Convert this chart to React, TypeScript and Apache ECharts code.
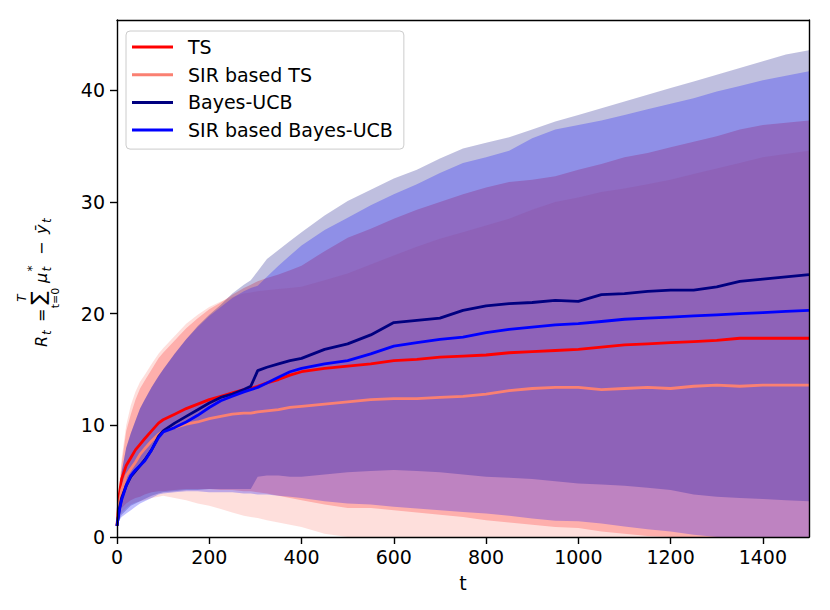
import React, { useEffect, useRef } from "react";
import * as echarts from "echarts";

const T = [0, 5, 10, 20, 30, 40, 50, 60, 75, 90, 100, 125, 150, 175, 200, 225, 250, 275, 290, 305, 325, 350, 375, 400, 450, 500, 550, 600, 650, 700, 750, 800, 850, 900, 950, 1000, 1050, 1100, 1150, 1200, 1250, 1300, 1350, 1400, 1450, 1500];

const tsMean = [1.0, 3.8, 5.2, 6.4, 7.1, 7.8, 8.3, 8.8, 9.5, 10.2, 10.5, 11.0, 11.5, 11.9, 12.3, 12.6, 12.9, 13.2, 13.3, 13.5, 13.8, 14.1, 14.5, 14.8, 15.1, 15.3, 15.5, 15.8, 15.9, 16.1, 16.2, 16.3, 16.5, 16.6, 16.7, 16.8, 17.0, 17.2, 17.3, 17.4, 17.5, 17.6, 17.8, 17.8, 17.8, 17.8];
const tsUpper = [1.0, 4.5, 6.5, 9.5, 11.0, 12.3, 13.3, 14.0, 15.0, 16.0, 16.5, 17.6, 18.7, 19.6, 20.4, 21.0, 21.7, 22.3, 22.6, 22.9, 23.2, 23.5, 23.9, 24.3, 25.6, 26.8, 27.6, 28.5, 29.3, 30.0, 30.7, 31.3, 31.8, 32.0, 32.3, 32.9, 33.4, 34.0, 34.4, 34.9, 35.4, 35.9, 36.5, 36.9, 37.1, 37.3];
const tsLower = [1.0, 2.0, 2.6, 3.0, 3.3, 3.5, 3.6, 3.8, 4.0, 4.1, 4.1, 4.2, 4.3, 4.3, 4.3, 4.2, 4.2, 4.1, 4.1, 4.0, 3.9, 3.7, 3.5, 3.3, 2.9, 2.6, 2.6, 2.4, 2.2, 2.0, 1.8, 1.5, 1.3, 1.1, 0.9, 0.8, 0.5, 0.3, 0.1, 0, 0, 0, 0, 0, 0, 0];

const sirTsMean = [1.0, 3.0, 4.2, 5.5, 6.1, 6.7, 7.4, 7.9, 8.6, 9.2, 9.5, 9.8, 10.1, 10.3, 10.6, 10.8, 11.0, 11.1, 11.1, 11.2, 11.3, 11.4, 11.6, 11.7, 11.9, 12.1, 12.3, 12.4, 12.4, 12.5, 12.6, 12.8, 13.1, 13.3, 13.4, 13.4, 13.2, 13.3, 13.4, 13.3, 13.5, 13.6, 13.5, 13.6, 13.6, 13.6];
const sirTsUpper = [1.0, 4.8, 7.0, 10.0, 11.8, 13.0, 13.9, 14.5, 15.5, 16.4, 16.9, 18.0, 19.1, 19.9, 20.6, 21.1, 21.5, 21.8, 21.9, 22.0, 22.1, 22.2, 22.3, 22.4, 23.0, 23.6, 24.4, 25.2, 26.0, 26.7, 27.3, 27.9, 28.5, 29.3, 30.0, 30.4, 30.9, 31.2, 31.6, 32.0, 32.5, 33.0, 33.5, 34.0, 34.3, 34.6];
const sirTsLower = [1.0, 1.8, 2.2, 2.6, 2.9, 3.1, 3.2, 3.3, 3.5, 3.6, 3.7, 3.5, 3.3, 3.0, 2.8, 2.5, 2.2, 1.9, 1.8, 1.7, 1.5, 1.3, 1.1, 0.9, 0.3, 0, 0, 0, 0, 0, 0, 0, 0, 0, 0, 0, 0, 0, 0, 0, 0, 0, 0, 0, 0, 0];

const bucbMean = [1.0, 2.5, 3.5, 4.6, 5.4, 5.9, 6.4, 6.9, 7.8, 9.0, 9.5, 10.2, 10.8, 11.4, 12.0, 12.5, 12.8, 13.2, 13.5, 14.9, 15.2, 15.5, 15.8, 16.0, 16.8, 17.3, 18.1, 19.2, 19.4, 19.6, 20.3, 20.7, 20.9, 21.0, 21.2, 21.1, 21.7, 21.8, 22.0, 22.1, 22.1, 22.4, 22.9, 23.1, 23.3, 23.5];
const bucbUpper = [1.0, 4.0, 5.8, 8.0, 9.3, 10.4, 11.5, 12.3, 13.4, 14.4, 15.0, 16.4, 17.7, 18.9, 19.9, 20.8, 21.8, 22.6, 23.0, 23.8, 24.9, 25.7, 26.5, 27.3, 28.8, 30.1, 31.1, 32.1, 32.9, 33.9, 34.8, 35.3, 35.8, 36.5, 37.2, 37.8, 38.4, 39.0, 39.6, 40.2, 40.8, 41.4, 42.0, 42.6, 43.2, 43.6];
const bucbLower = [1.0, 1.6, 2.0, 2.4, 2.8, 3.0, 3.2, 3.4, 3.7, 3.9, 4.0, 4.1, 4.2, 4.2, 4.3, 4.3, 4.3, 4.3, 4.3, 5.4, 5.5, 5.5, 5.4, 5.4, 5.6, 5.8, 5.9, 6.0, 5.9, 5.8, 5.6, 5.4, 5.3, 5.2, 5.0, 4.8, 4.7, 4.6, 4.4, 4.2, 3.8, 3.6, 3.5, 3.4, 3.3, 3.2];

const sirBucbMean = [1.0, 2.4, 3.3, 4.6, 5.5, 6.0, 6.4, 6.8, 7.8, 8.9, 9.4, 9.8, 10.3, 10.9, 11.6, 12.2, 12.6, 13.0, 13.2, 13.4, 13.8, 14.3, 14.8, 15.1, 15.5, 15.8, 16.4, 17.1, 17.4, 17.7, 17.9, 18.3, 18.6, 18.8, 19.0, 19.1, 19.3, 19.5, 19.6, 19.7, 19.8, 19.9, 20.0, 20.1, 20.2, 20.3];
const sirBucbUpper = [1.0, 4.0, 5.8, 8.0, 9.3, 10.4, 11.5, 12.3, 13.4, 14.4, 15.0, 16.4, 17.7, 18.8, 19.8, 20.6, 21.4, 22.0, 22.3, 22.5, 23.3, 24.3, 25.2, 26.1, 27.5, 28.6, 29.7, 30.7, 31.6, 32.6, 33.5, 34.0, 34.6, 35.7, 36.5, 36.9, 37.3, 37.8, 38.3, 38.8, 39.3, 39.9, 40.4, 40.9, 41.3, 41.7];
const sirBucbLower = [1.0, 1.5, 1.8, 2.1, 2.4, 2.7, 3.0, 3.2, 3.5, 3.8, 3.9, 4.0, 4.1, 4.1, 4.0, 4.0, 4.0, 3.9, 3.9, 3.8, 3.8, 3.7, 3.6, 3.5, 3.2, 3.0, 2.9, 2.7, 2.55, 2.4, 2.25, 2.1, 1.9, 1.65, 1.45, 1.4, 1.2, 0.95, 0.7, 0.5, 0.2, 0, 0, 0, 0, 0];

const seriesNames = ["TS", "SIR based TS", "Bayes-UCB", "SIR based Bayes-UCB"];
const seriesColors = ["#ff0000", "#fa8072", "#000080", "#0000ff"];
const xTicks = [0, 200, 400, 600, 800, 1000, 1200, 1400];
const yTicks = [0, 10, 20, 30, 40];

const FONT = "DejaVu Sans";

function pairs(v: number[]) {
  return T.map((t, i) => [t, v[i]]);
}
function hexToRgba(hex: string, a: number) {
  const r = parseInt(hex.slice(1, 3), 16);
  const g = parseInt(hex.slice(3, 5), 16);
  const b = parseInt(hex.slice(5, 7), 16);
  return `rgba(${r},${g},${b},${a})`;
}

export default function App() {
  const ref = useRef<HTMLDivElement>(null);
  useEffect(() => {
    if (!ref.current) return;
    const chart = echarts.init(ref.current, null, { renderer: "svg" });
    const means = [tsMean, sirTsMean, bucbMean, sirBucbMean];
    const uppers = [tsUpper, sirTsUpper, bucbUpper, sirBucbUpper];
    const lowers = [tsLower, sirTsLower, bucbLower, sirBucbLower];

    const bandSeries = seriesNames.map((name, k) => ({
      name: name + " band",
      type: "custom",
      silent: true,
      clip: true,
      z: 2,
      data: [[T[0], lowers[k][0]]],
      renderItem: (_params: any, api: any) => {
        const pts: number[][] = [];
        for (let i = 0; i < T.length; i++) pts.push(api.coord([T[i], uppers[k][i]]));
        for (let i = T.length - 1; i >= 0; i--) pts.push(api.coord([T[i], lowers[k][i]]));
        return {
          type: "polygon",
          shape: { points: pts },
          style: { fill: hexToRgba(seriesColors[k], 0.25), stroke: "none" },
        };
      },
    }));

    const lineSeries = seriesNames.map((name, k) => ({
      name,
      type: "line",
      data: pairs(means[k]),
      symbol: "none",
      showSymbol: false,
      silent: true,
      color: seriesColors[k],
      lineStyle: { color: seriesColors[k], width: 2.8 },
      z: 3,
    }));

    const axisLine = { show: true, onZero: false, lineStyle: { color: "#000", width: 1.4 } };
    const sub = 12;
    const main = 16;
    const it = (s: number) => `italic ${s}px "${FONT}"`;
    const rm = (s: number) => `${s}px "${FONT}"`;
    const txt = (text: string, x: number, y: number, font: string, align = "left") => ({
      type: "text",
      style: {
        text,
        x,
        y,
        font,
        fill: "#000",
        align,
        textAlign: align,
        verticalAlign: "middle",
        textVerticalAlign: "middle",
      },
    });

    chart.setOption({
      animation: false,
      grid: { left: 117, right: 21, top: 20, bottom: 73, containLabel: false },
      xAxis: [
        {
          type: "value",
          min: 0,
          max: 1500,
          interval: 200,
          position: "bottom",
          z: 10,
          axisLine,
          axisTick: { show: true, length: 7, lineStyle: { color: "#000", width: 1.4 }, customValues: xTicks },
          axisLabel: {
            color: "#000",
            fontSize: 19,
            fontFamily: FONT,
            margin: 10,
            customValues: xTicks,
            formatter: (v: number) => String(v),
          },
          splitLine: { show: false },
          name: "t",
          nameLocation: "middle",
          nameGap: 36,
          nameTextStyle: { color: "#000", fontSize: 19, fontFamily: FONT },
        },
        {
          type: "value",
          min: 0,
          max: 1500,
          position: "top",
          z: 10,
          axisLine,
          axisTick: { show: false },
          axisLabel: { show: false },
          splitLine: { show: false },
        },
      ],
      yAxis: [
        {
          type: "value",
          min: 0,
          max: 46.3,
          interval: 10,
          position: "left",
          z: 10,
          axisLine,
          axisTick: { show: true, length: 7, lineStyle: { color: "#000", width: 1.4 }, customValues: yTicks },
          axisLabel: {
            color: "#000",
            fontSize: 19,
            fontFamily: FONT,
            margin: 12,
            customValues: yTicks,
            formatter: (v: number) => String(v),
          },
          splitLine: { show: false },
        },
        {
          type: "value",
          min: 0,
          max: 46.3,
          position: "right",
          z: 10,
          axisLine,
          axisTick: { show: false },
          axisLabel: { show: false },
          splitLine: { show: false },
        },
      ],
      legend: {
        data: seriesNames,
        orient: "vertical",
        left: 126,
        top: 31,
        padding: [6, 11, 9, 6],
        itemGap: 7.7,
        itemWidth: 41,
        itemHeight: 3,
        icon: "rect",
        selectedMode: false,
        textStyle: { fontSize: 19, fontFamily: FONT, color: "#000", padding: [0, 0, 0, 10], lineHeight: 20 },
        borderColor: "#cccccc",
        borderWidth: 1,
        borderRadius: 4,
        backgroundColor: "rgba(255,255,255,0.8)",
        z: 20,
      },
      graphic: [
        {
          type: "group",
          x: 47,
          y: 347,
          rotation: Math.PI / 2,
          children: [
            txt("R", 0, -5.5, it(main)),
            txt("t", 12, -0.5, it(sub)),
            txt("=", 25, -5.5, rm(main)),
            txt("\u2211", 49, -9.5, rm(20), "center"),
            txt("T", 49, -25.5, it(sub), "center"),
            txt("t=0", 49, 8, rm(sub - 1), "center"),
            txt("\u03bc", 64, -5.5, it(main)),
            txt("*", 75.5, -15, rm(sub)),
            txt("t", 75.5, -0.5, it(sub)),
            txt("\u2212", 92, -5.5, rm(main)),
            txt("\u0233", 113, -5.5, it(main)),
            txt("t", 124, -0.5, it(sub)),
          ],
        },
      ],
      series: [...bandSeries, ...lineSeries],
    });
    return () => chart.dispose();
  }, []);
  return (
    <div
      ref={ref}
      style={{ position: "fixed", left: 0, top: 0, width: 830, height: 610, background: "#fff" }}
    />
  );
}
